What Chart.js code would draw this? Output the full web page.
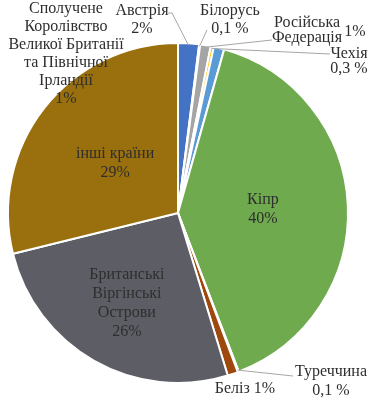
<!DOCTYPE html>
<html>
<head>
<meta charset="utf-8">
<script src="https://cdn.jsdelivr.net/npm/chart.js@4"></script>
<style>
    html, body { margin: 0; padding: 0; background: #fff; }
    #chart { display: block; }
</style>
</head>
<body>
<canvas id="chart" width="375" height="400"></canvas>
<script>
// Data
var categories = [
    ['Австрія'],
    ['Білорусь'],
    ['Російська', 'Федерація'],
    ['Чехія'],
    ['Сполучене', 'Королівство', 'Великої Британії', 'та Північної', 'Ірландії'],
    ['Кіпр'],
    ['Туреччина'],
    ['Беліз'],
    ['Британські', 'Віргінські', 'Острови'],
    ['інші країни']
];
var shares = [2, 0.1, 1, 0.3, 1, 40, 0.1, 1, 26, 29];
var shareLabels = ['2%', '0,1 %', '1%', '0,3 %', '1%', '40%', '0,1 %', '1%', '26%', '29%'];
var sliceColors = ['#4472C4', '#ED7D31', '#A5A5A5', '#FFC000', '#5B9BD5',
                   '#6FAA4E', '#264478', '#9E480E', '#5D5D65', '#99700D'];

// Label placement (x, y of first line, line height); inside = fraction of radius
var labelLayout = [
    { x: 142, y: 11, lh: 18, leader: [[168, 13], [172, 13]] },
    { x: 230, y: 11, lh: 18, leader: [[207, 30]] },
    { x: 307, y: 23, lh: 15, shareAt: [355, 32], leader: [[272, 40]] },
    { x: 349, y: 54, lh: 15, leader: [[330, 54]] },
    { x: 66, y: 9, lh: 18 },
    { inside: 0.5, lh: 19 },
    { x: 331, y: 372, lh: 19, leader: [[293, 376]] },
    { x: 245, y: 389, inline: true },
    { inside: 0.61, lh: 19 },
    { inside: 0.47, lh: 19 }
];

var sliceLabels = {
    id: 'sliceLabels',
    afterDatasetsDraw: function (chart) {
        var ctx = chart.ctx;
        var arcs = chart.getDatasetMeta(0).data;
        ctx.save();
        ctx.font = '16px "Liberation Serif", "Times New Roman", serif';
        ctx.textAlign = 'center';
        ctx.textBaseline = 'middle';
        arcs.forEach(function (arc, i) {
            var lay = labelLayout[i];
            var p = arc.getProps(['x', 'y', 'startAngle', 'endAngle', 'outerRadius'], true);
            var mid = (p.startAngle + p.endAngle) / 2;
            var lines = categories[i].slice();

            // Leader line from label to slice edge
            if (lay.leader) {
                var ax = p.x + Math.cos(mid) * (p.outerRadius - 2);
                var ay = p.y + Math.sin(mid) * (p.outerRadius - 2);
                ctx.strokeStyle = '#a6a6a6';
                ctx.lineWidth = 1;
                ctx.beginPath();
                ctx.moveTo(lay.leader[0][0], lay.leader[0][1]);
                for (var k = 1; k < lay.leader.length; k++) {
                    ctx.lineTo(lay.leader[k][0], lay.leader[k][1]);
                }
                ctx.lineTo(ax, ay);
                ctx.stroke();
            }

            ctx.fillStyle = '#2e2e2e';
            var x, y;
            if (lay.inside) {
                lines.push(shareLabels[i]);
                x = p.x + Math.cos(mid) * p.outerRadius * lay.inside;
                y = p.y + Math.sin(mid) * p.outerRadius * lay.inside - (lines.length - 1) * lay.lh / 2;
            } else if (lay.inline) {
                lines = [lines.join(' ') + ' ' + shareLabels[i]];
                x = lay.x; y = lay.y;
            } else {
                if (!lay.shareAt) lines.push(shareLabels[i]);
                x = lay.x; y = lay.y;
            }
            lines.forEach(function (t, n) {
                ctx.fillText(t, x, y + n * (lay.lh || 18));
            });
            if (lay.shareAt) {
                ctx.fillText(shareLabels[i], lay.shareAt[0], lay.shareAt[1]);
            }
        });
        ctx.restore();
    }
};

var pieCanvas = document.getElementById('chart');
if (pieCanvas) {
    new Chart(pieCanvas.getContext('2d'), {
        type: 'pie',
        data: {
            labels: categories,
            datasets: [{
                data: shares,
                backgroundColor: sliceColors,
                borderColor: '#ffffff',
                borderWidth: 2
            }]
        },
        options: {
            responsive: false,
            animation: false,
            layout: { padding: { left: 7, right: 26, top: 42, bottom: 16 } },
            plugins: {
                legend: { display: false },
                tooltip: { enabled: false }
            }
        },
        plugins: [sliceLabels]
    });
}
</script>
</body>
</html>
